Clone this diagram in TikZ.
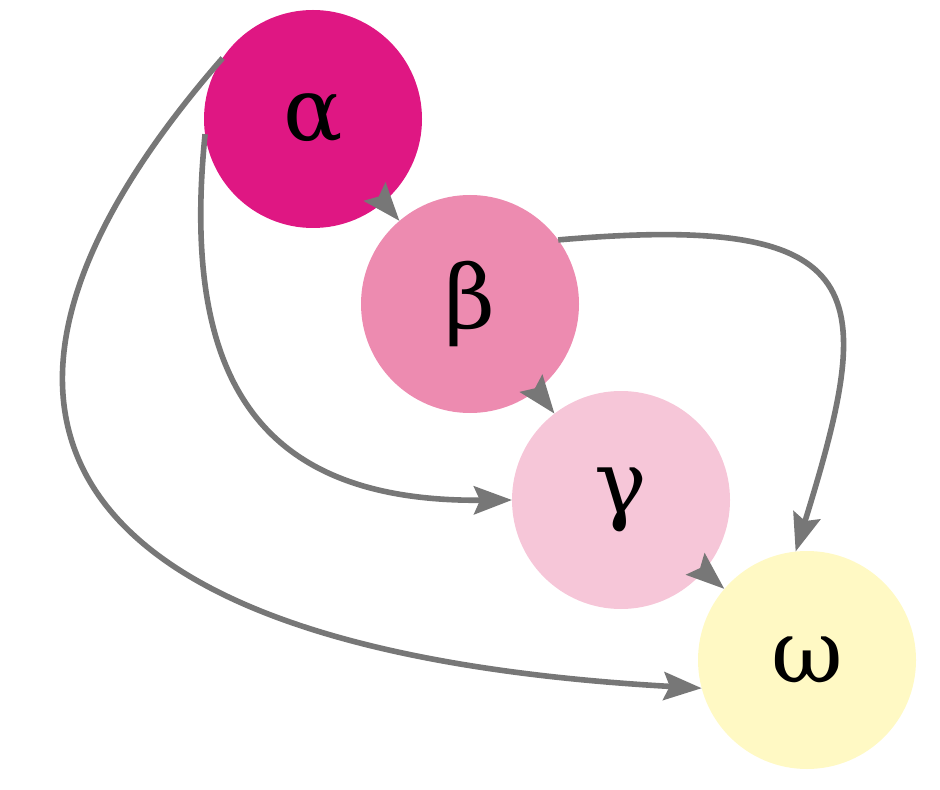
\documentclass[tikz,border=0pt]{standalone}
\usepackage{fontspec}
\newfontfamily\greekfont{DejaVu Serif}
\usetikzlibrary{arrows.meta}

\definecolor{colorAlpha}{RGB}{223,23,131}
\definecolor{colorBeta}{RGB}{237,139,176}
\definecolor{colorGamma}{RGB}{246,198,216}
\definecolor{colorOmega}{RGB}{255,249,196}
\definecolor{colorEdge}{RGB}{119,119,119}
\providecommand{\nodesize}{109pt}
\providecommand{\edgethickness}{2.8pt}

\begin{document}
\begin{tikzpicture}[
    x=0.5pt, y=-0.5pt,
    % Node styles
    node_base/.style={
        circle,
        minimum size=\nodesize,
        inner sep=0pt,
        outer sep=0pt,
        font=\greekfont\fontsize{44}{50}\selectfont
    },
    node_alpha/.style={node_base, fill=colorAlpha},
    node_beta/.style={node_base, fill=colorBeta},
    node_gamma/.style={node_base, fill=colorGamma},
    node_omega/.style={node_base, fill=colorOmega},
    % Edge styles
    normal_edge/.style={
        line width=\edgethickness,
        draw=colorEdge,
        -{Stealth[length=19pt, width=14pt, inset=3pt]}
    }
]
    \useasboundingbox (0,0) rectangle (940,790);

    % Nodes along the diagonal
    \node[node_alpha] (alpha) at (313,119) {α};
    \node[node_beta]  (beta)  at (470,304) {β};
    \node[node_gamma] (gamma) at (621,500) {γ};
    \node[node_omega] (omega) at (807,660) {ω};

    % Short edges between neighbours
    \draw[normal_edge] (alpha) -- (beta);
    \draw[normal_edge] (beta) -- (gamma);
    \draw[normal_edge] (gamma) -- (omega);

    % Long curved edges
    \draw[normal_edge] (beta.36) .. controls (878,212) and (876,292) .. (omega.96);
    \draw[normal_edge] (alpha.188) .. controls (180,385) and (263,502) .. (gamma.west);
    \draw[normal_edge] (alpha.146) .. controls (-76,400) and (26,650) .. (omega.195);

\end{tikzpicture}
\end{document}
